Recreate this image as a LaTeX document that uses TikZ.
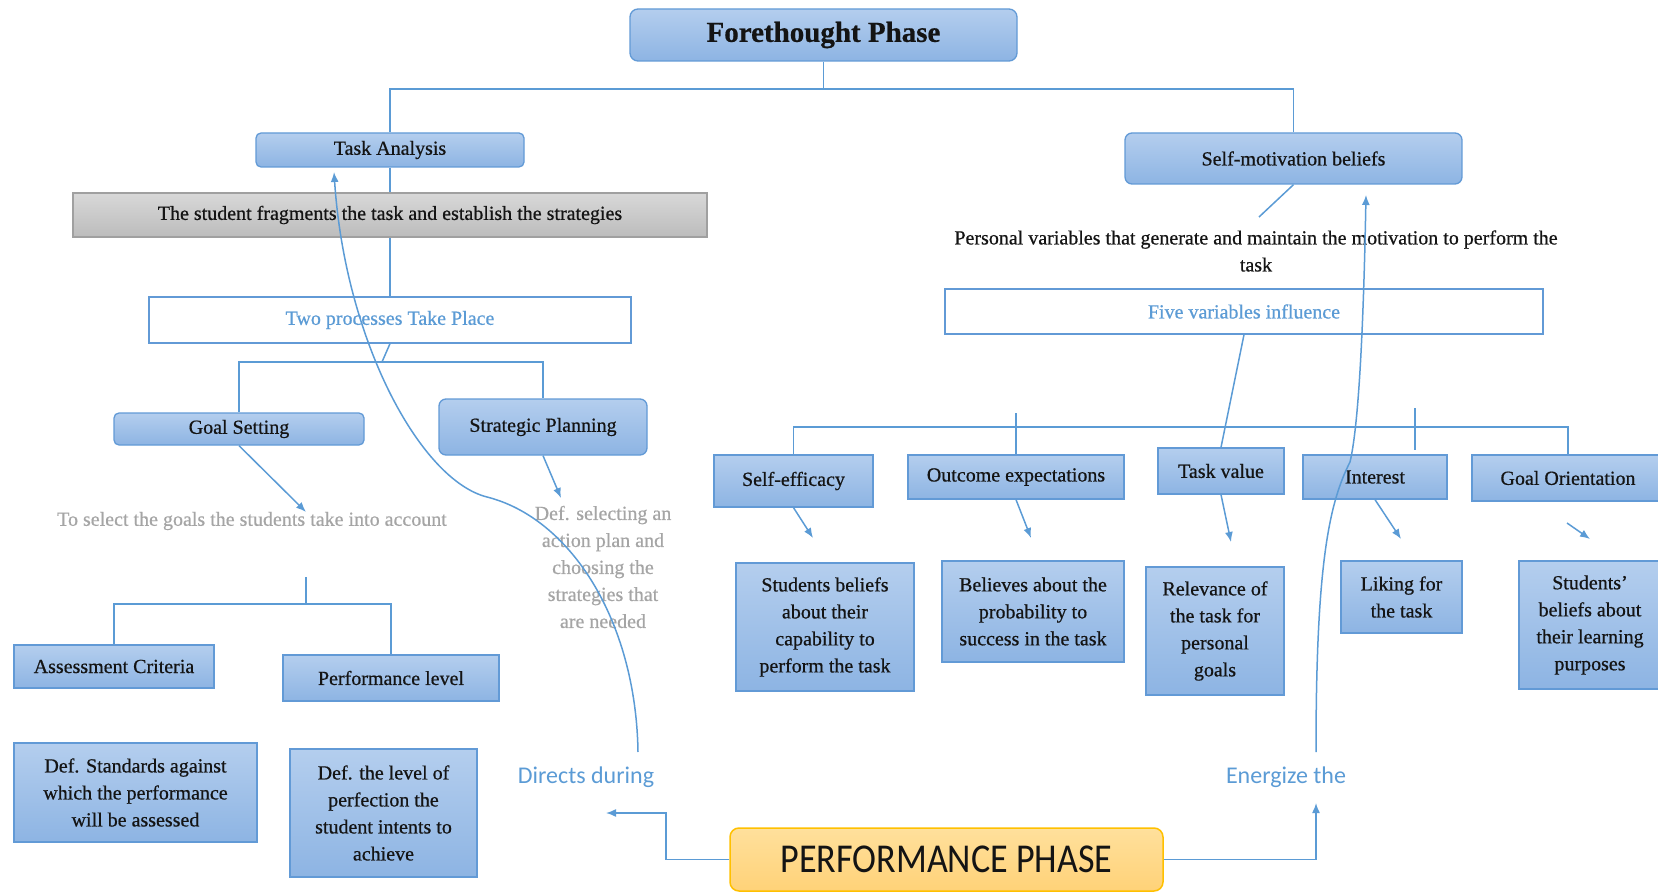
\documentclass[tikz,border=0pt]{standalone}
\usepackage{fontspec}
\setmainfont{Liberation Serif}[FakeBold=0.6]
\newfontfamily\calfont{Carlito}
\usetikzlibrary{arrows.meta}
\definecolor{bluetop}{RGB}{180,206,238}
\definecolor{bluebot}{RGB}{141,180,227}
\definecolor{blueborder}{RGB}{98,154,214}
\definecolor{linecol}{RGB}{91,155,213}
\definecolor{graytxt}{RGB}{165,165,165}
\definecolor{graytop}{RGB}{216,216,216}
\definecolor{graybot}{RGB}{188,188,188}
\definecolor{grayborder}{RGB}{160,160,160}
\definecolor{orangetop}{RGB}{255,224,156}
\definecolor{orangebot}{RGB}{255,210,120}
\definecolor{orangeborder}{RGB}{255,192,0}
\definecolor{txt}{RGB}{20,20,20}
\tikzset{
  base/.style={inner sep=0pt, align=center, font=\fontsize{20}{27}\selectfont, text=txt},
  bbox/.style={base, draw=blueborder, line width=1.3pt, top color=bluetop, bottom color=bluebot},
  rbox/.style={bbox, rounded corners=5pt},
  wbox/.style={base, draw=blueborder, line width=1.3pt, fill=white, text=linecol},
  gbox/.style={base, draw=grayborder, line width=1.2pt, top color=graytop, bottom color=graybot},
  graynote/.style={base, text=graytxt},
  bluenote/.style={inner sep=0pt, font=\calfont\fontsize{24}{28}\selectfont, text=linecol},
  conn/.style={draw=linecol, line width=1.5pt},
  arr/.style={conn, -{Latex[length=10pt,width=8pt]}},
}
\begin{document}
\begin{tikzpicture}[x=1pt,y=-1pt]
\useasboundingbox (0,0) rectangle (1658,893);

% ---------- nodes ----------
\node[rbox, rounded corners=8pt, minimum width=387pt, minimum height=52pt,
      font=\bfseries\fontsize{29}{34}\selectfont] (fore) at (823.5,35) {Forethought Phase};

\node[rbox, minimum width=268pt, minimum height=34pt] (ta) at (390,150) {Task Analysis};
\node[gbox, minimum width=634pt, minimum height=44pt] (gray) at (390,215)
  {The student fragments the task and establish the strategies};
\node[wbox, minimum width=482pt, minimum height=46pt] (two) at (390,320) {Two processes Take Place};
\node[rbox, minimum width=250pt, minimum height=32pt] (gs) at (239,429) {Goal Setting};
\node[rbox, rounded corners=7pt, minimum width=208pt, minimum height=56pt] (sp) at (543,427) {Strategic Planning};
\node[graynote] (sel) at (252,521) {To select the goals the students take into account};
\node[graynote] (defsel) at (603,567)
  {Def. selecting an\\action plan and\\choosing the\\strategies that\\are needed};
\node[bbox, minimum width=200pt, minimum height=43pt] (ac) at (114,666.5) {Assessment Criteria};
\node[bbox, minimum width=216pt, minimum height=46pt] (pl) at (391,678) {Performance level};
\node[bbox, minimum width=243pt, minimum height=99pt] (ds) at (135.5,792.5)
  {Def. Standards against\\which the performance\\will be assessed};
\node[bbox, minimum width=187pt, minimum height=128pt] (dl) at (383.5,813)
  {Def. the level of\\perfection the\\student intents to\\achieve};

\node[bluenote] (directs) at (586,777) {Directs during};
\node[bluenote] (energize) at (1286,777) {Energize the};
\node[base, draw=orangeborder, line width=1.5pt, top color=orangetop, bottom color=orangebot,
      rounded corners=9pt, minimum width=433pt, minimum height=63pt,
      font=\calfont\fontsize{41}{44}\selectfont] (perf) at (946.5,859.5)
  {\scalebox{0.88}[1]{PERFORMANCE PHASE}};

\node[rbox, rounded corners=7pt, minimum width=337pt, minimum height=51pt] (sm) at (1293.5,158.5) {Self-motivation beliefs};
\node[base] (pers) at (1256,251)
  {Personal variables that generate and maintain the motivation to perform the\\task};
\node[wbox, minimum width=598pt, minimum height=45pt] (five) at (1244,311.5) {Five variables influence};

\node[bbox, minimum width=159pt, minimum height=52pt] (se) at (793.5,481) {Self-efficacy};
\node[bbox, minimum width=216pt, minimum height=44pt] (oe) at (1016,477) {Outcome expectations};
\node[bbox, minimum width=126pt, minimum height=46pt] (tv) at (1221,471) {Task value};
\node[bbox, minimum width=144pt, minimum height=44pt] (int) at (1375,477) {Interest};
\node[bbox, minimum width=192pt, minimum height=46pt] (go) at (1568,478) {Goal Orientation};

\node[bbox, minimum width=178pt, minimum height=128pt] (sbc) at (825,627)
  {Students beliefs\\about their\\capability to\\perform the task};
\node[bbox, minimum width=182pt, minimum height=101pt] (bap) at (1033,611.5)
  {Believes about the\\probability to\\success in the task};
\node[bbox, minimum width=138pt, minimum height=128pt] (rel) at (1215,631)
  {Relevance of\\the task for\\personal\\goals};
\node[bbox, minimum width=121pt, minimum height=72pt] (lik) at (1401.5,597)
  {Liking for\\the task};
\node[bbox, minimum width=142pt, minimum height=128pt] (stb) at (1590,625)
  {Students'\\beliefs about\\their learning\\purposes};

% ---------- coordinates ----------
\coordinate (topbar) at (823.5,89);
\coordinate (b1) at (382,362);
\coordinate (gstip) at (306,512);
\coordinate (sptip) at (561,498);
\coordinate (astub) at (306,577);
\coordinate (abar) at (306,604);
\coordinate (dstart) at (638,752);
\coordinate (dend) at (334,172);
\coordinate (dirbend) at (666,813);
\coordinate (dirtip) at (606,813);
\coordinate (entip) at (1316,803);
\coordinate (estart) at (1316,752);
\coordinate (eend) at (1366,195);
\coordinate (smend) at (1259,217);
\coordinate (barR) at (1568,427);
\coordinate (oetop) at (1016,413);
\coordinate (intA) at (1415,408);
\coordinate (intB) at (1415,450);
\coordinate (setip) at (813,538);
\coordinate (oetip) at (1031,538);
\coordinate (tvtip) at (1231,542);
\coordinate (inttip) at (1401,539);
\coordinate (goA) at (1567,523);
\coordinate (gotip) at (1590,539);

% ---------- connectors ----------
\draw[conn] (fore.south) -- (topbar) -| (ta.north);
\draw[conn] (topbar) -| (sm.north);
\draw[conn] (ta.south) -- (gray.north);
\draw[conn] (gray.south) -- (two.north);
\draw[conn] (two.south) -- (b1);
\draw[conn] (gs.north) |- (b1) -| (sp.north);
\draw[arr] (gs.south) -- (gstip);
\draw[arr] (sp.south) -- (sptip);
\draw[conn] (astub) -- (abar);
\draw[conn] (ac.north) |- (abar) -| (pl.north);

\draw[arr] (dstart) .. controls (636,620) and (570,518) .. (487,497)
                    .. controls (420,480) and (345,340) .. (dend);
\draw[arr] (perf.west) -| (dirbend) -- (dirtip);
\draw[arr] (perf.east) -| (entip);
\draw[arr] (estart) .. controls (1316,570) and (1328,505) .. (1350,462)
                    .. controls (1360,420) and (1364,300) .. (eend);

\draw[conn] (sm.south) -- (smend);
\draw[conn] (five.south) -- (tv.north);
\draw[conn] (se.north) |- (barR) -- (go.north);
\draw[conn] (oetop) -- (oe.north);
\draw[conn] (intA) -- (intB);
\draw[arr] (se.south) -- (setip);
\draw[arr] (oe.south) -- (oetip);
\draw[arr] (tv.south) -- (tvtip);
\draw[arr] (int.south) -- (inttip);
\draw[arr] (goA) -- (gotip);
\end{tikzpicture}
\end{document}
